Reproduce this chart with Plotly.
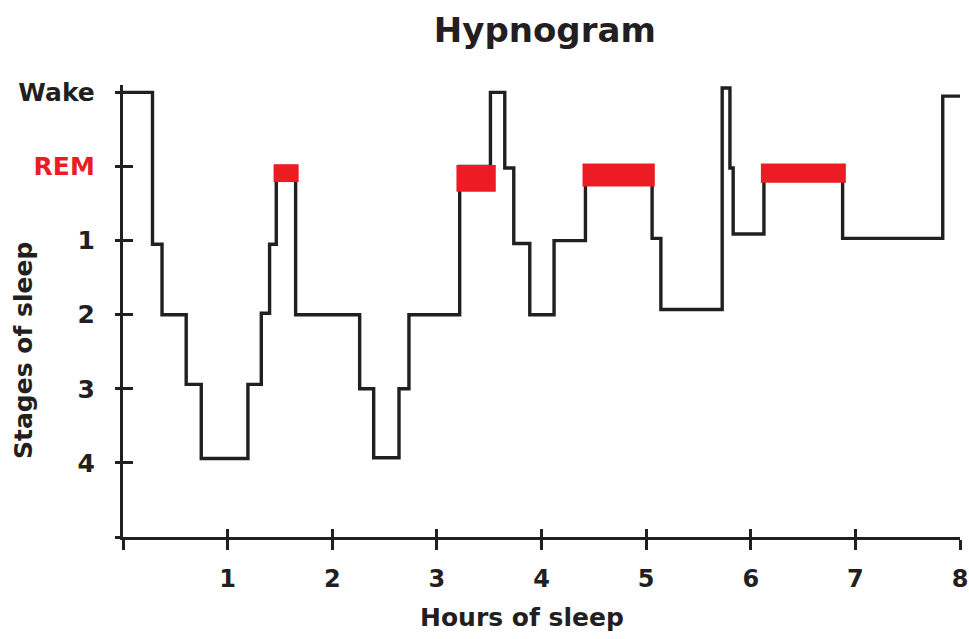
import plotly.graph_objects as go

# Stage levels on the vertical axis (0 = Wake at top, 5 = stage 4)
stage_vals = [0, 1, 2, 3, 4, 5, 6]
stage_text = ["Wake", "<span style='color:#ED1C24'>REM</span>", "1", "2", "3", "4", ""]
hour_vals = [0, 1, 2, 3, 4, 5, 6, 7, 8]
hour_text = ["", "1", "2", "3", "4", "5", "6", "7", "8"]

# Hypnogram step changes: time (hours) and stage level starting at that time
step_time = [0.0, 0.282, 0.373, 0.604, 0.748, 1.194, 1.322, 1.401, 1.465, 1.650,
             2.262, 2.396, 2.638, 2.733, 3.218, 3.512, 3.649, 3.735, 3.888, 4.120,
             4.420, 5.057, 5.141, 5.727, 5.801, 5.832, 6.126, 6.878, 7.835, 8.0]
step_level = [0.0, 2.05, 3.0, 3.94, 4.94, 3.94, 2.98, 2.05, 1.0, 3.0,
              4.0, 4.93, 4.0, 3.0, 1.0, 0.0, 1.02, 2.04, 3.0, 2.0,
              1.0, 1.97, 2.93, -0.06, 1.02, 1.91, 1.0, 1.97, 0.05, 0.05]

# REM episodes (red blocks)
rem_start = [1.439, 3.187, 4.392, 6.097]
rem_end = [1.679, 3.563, 5.083, 6.909]
rem_top = [0.97, 0.98, 0.96, 0.96]
rem_bottom = [1.21, 1.34, 1.27, 1.22]

BLACK = "#231F20"
RED = "#ED1C24"
FONT = "DejaVu Sans"

fig = go.Figure()
fig.add_trace(go.Scatter(
    x=step_time, y=step_level, mode="lines", line_shape="hv",
    line=dict(color=BLACK, width=3.4), showlegend=False, hoverinfo="skip"))

fig.add_trace(go.Bar(
    x=[(s + e) / 2 for s, e in zip(rem_start, rem_end)],
    width=[e - s for s, e in zip(rem_start, rem_end)],
    base=rem_top,
    y=[b - t for t, b in zip(rem_top, rem_bottom)],
    marker=dict(color=RED, line=dict(width=0)),
    xaxis="x2", yaxis="y2", showlegend=False, hoverinfo="skip"))

xr = [0, 8]
yr = [6, -0.1]
tickfont = dict(family=FONT, size=24, color=BLACK, weight="bold")
ytickfont = dict(family=FONT, size=25, color=BLACK, weight="bold")

fig.update_layout(
    width=969, height=639,
    margin=dict(l=123, r=9, t=85, b=102, autoexpand=False),
    plot_bgcolor="white", paper_bgcolor="white",
    title=dict(text="Hypnogram", x=0.504, xref="paper", xanchor="center",
               y=1 - 30 / 639, yanchor="middle",
               font=dict(family=FONT, size=34, color=BLACK, weight="bold")),
    xaxis=dict(range=xr, tickvals=hour_vals, ticktext=hour_text,
               showline=True, linecolor=BLACK, linewidth=3.4,
               ticks="outside", ticklen=10, tickwidth=3.4, tickcolor=BLACK,
               showgrid=False, zeroline=False, tickfont=tickfont,
               ticklabelstandoff=8, automargin=False, fixedrange=True),
    yaxis=dict(range=yr, tickvals=stage_vals, ticktext=stage_text,
               showline=True, linecolor=BLACK, linewidth=3.4,
               ticks="outside", ticklen=5, tickwidth=3.4, tickcolor=BLACK,
               showgrid=False, zeroline=False, tickfont=ytickfont,
               ticklabelstandoff=15, automargin=False, fixedrange=True),
    xaxis2=dict(range=xr, overlaying="x", anchor="y2", side="bottom",
                tickvals=hour_vals, showticklabels=False,
                ticks="inside", ticklen=8, tickwidth=3.4, tickcolor=BLACK,
                showgrid=False, zeroline=False, showline=False,
                automargin=False, fixedrange=True),
    yaxis2=dict(range=yr, overlaying="y", anchor="x2", side="left",
                tickvals=stage_vals, showticklabels=False,
                ticks="inside", ticklen=10, tickwidth=3.4, tickcolor=BLACK,
                showgrid=False, zeroline=False, showline=False,
                automargin=False, fixedrange=True),
    annotations=[
        dict(text="Hours of sleep", xref="paper", yref="paper",
             x=0.4767, y=-0.179, xanchor="center", yanchor="middle",
             showarrow=False,
             font=dict(family=FONT, size=25, color=BLACK, weight="bold")),
        dict(text="Stages of sleep", xref="paper", yref="paper",
             x=-0.1195, y=0.4137, xanchor="center", yanchor="middle",
             textangle=-90, showarrow=False,
             font=dict(family=FONT, size=25, color=BLACK, weight="bold")),
    ],
)

fig.write_html("out.html", config={"displayModeBar": False},
               post_script="document.body.style.margin='0';")
